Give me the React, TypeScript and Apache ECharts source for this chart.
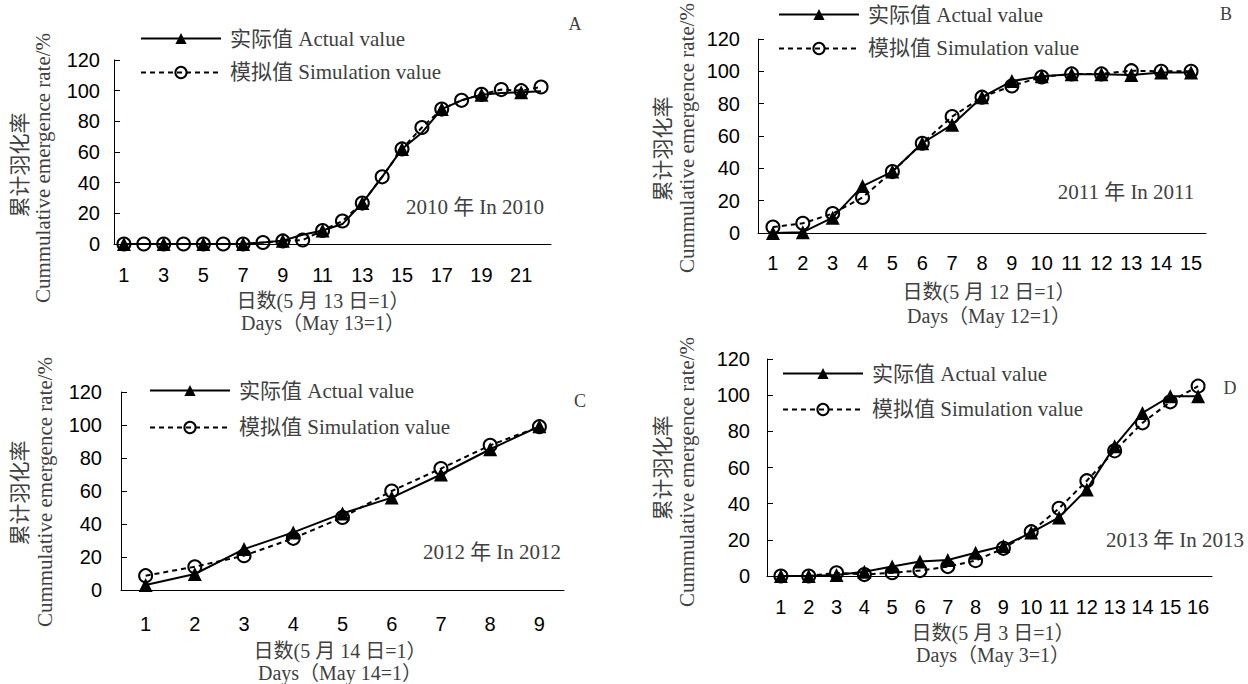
import React, { useEffect, useRef } from "react";
import * as echarts from "echarts";

const daysA = ["1","2","3","4","5","6","7","8","9","10","11","12","13","14","15","16","17","18","19","20","21","22"];
const actualA = [0,0,0,0,0,0,0,1,2.2,6,8.8,13,26.7,43.8,62,72.6,88,93.7,97.4,98.5,99,99.6];
const simA = [0,0,0,0,0,0,0,1,2,2.6,8.8,15,26.7,43.8,62,76,88,93.7,97.6,100.7,100,102.4];

const daysB = ["1","2","3","4","5","6","7","8","9","10","11","12","13","14","15"];
const actualB = [0,0.5,9.5,29,38,55.5,67,84,94,97,98.2,98.2,97.8,99.3,99.3];
const simB = [3.7,6,12,22,38,55.5,72,84,91,96.5,98.4,98.4,100.4,100,100];

const daysC = ["1","2","3","4","5","6","7","8","9"];
const actualC = [3,9.7,24.8,34.9,46.4,56,70,85.3,99.2];
const simC = [8.7,14.1,20.8,31.3,44,60,73.6,87.7,99];

const daysD = ["1","2","3","4","5","6","7","8","9","10","11","12","13","14","15","16"];
const actualD = [0,0,0.5,2.4,5.2,8,8.8,12.9,16.6,24,32.4,47.9,71.8,90.2,99.4,99.4];
const simD = [0,0,1.8,0.8,1.8,3,5.2,8.5,15.3,24.5,37.4,52.7,69.2,84.7,96.3,105];

const yTicks = { min: 0, max: 120, interval: 20 };

const ACT = "实际值 Actual value";
const SIM = "模拟值 Simulation value";
const yTitleCn = "累计羽化率";
const yTitleEn = "Cummulative emergence rate/%";
const xTitlesCn = ["日数(5 月 13 日=1）", "日数(5 月 12 日=1）", "日数(5 月 14 日=1）", "日数(5 月 3 日=1）"];
const xTitlesEn = ["Days（May 13=1）", "Days（May 12=1）", "Days（May 14=1）", "Days（May 3=1）"];
const yearLabels = ["2010 年 In 2010", "2011 年 In 2011", "2012 年 In 2012", "2013 年 In 2013"];
const panelLetters = ["A", "B", "C", "D"];

const SERIF = "'Liberation Serif', 'Times New Roman', 'Noto Sans CJK SC', serif";
const SANS = "'Liberation Sans', Arial, sans-serif";
const GRAY = "#404040";

const panels = [
  { days: daysA, act: actualA, sim: simA, grid: { left: 114, top: 60, width: 437, height: 184 }, labelInterval: 1, xMargin: 21, yMargin: 14,
    legend: { left: 140, top: 28, gap: 13 }, letter: [575, 24], year: [475, 207], yCn: [20, 165], yEn: [43, 168], xCn: [323, 301], xEn: [323, 323] },
  { days: daysB, act: actualB, sim: simB, grid: { left: 758, top: 39, width: 448, height: 194 }, labelInterval: 0, xMargin: 20, yMargin: 18,
    legend: { left: 778, top: 4, gap: 13 }, letter: [1226, 14], year: [1126, 192], yCn: [663, 149], yEn: [687, 138], xCn: [989, 292], xEn: [989, 316] },
  { days: daysC, act: actualC, sim: simC, grid: { left: 121, top: 392, width: 443, height: 198 }, labelInterval: 0, xMargin: 24, yMargin: 19,
    legend: { left: 149, top: 380, gap: 16 }, letter: [580, 401], year: [492, 552], yCn: [20, 493], yEn: [45, 492], xCn: [340, 651], xEn: [340, 673] },
  { days: daysD, act: actualD, sim: simD, grid: { left: 767, top: 359, width: 445, height: 217 }, labelInterval: 0, xMargin: 21, yMargin: 17,
    legend: { left: 782, top: 363, gap: 15 }, letter: [1230, 388], year: [1175, 540], yCn: [663, 468], yEn: [687, 472], xCn: [993, 633], xEn: [993, 655] },
];

function buildOption() {
  const grids: any[] = [];
  const xAxes: any[] = [];
  const yAxes: any[] = [];
  const series: any[] = [];
  const legends: any[] = [];
  const graphics: any[] = [];

  panels.forEach((p, i) => {
    grids.push({ ...p.grid, containLabel: false });
    xAxes.push({
      type: "category",
      gridIndex: i,
      data: p.days,
      boundaryGap: true,
      axisLine: { lineStyle: { color: "#000", width: 1 } },
      axisTick: { inside: true, length: 6, interval: 0, lineStyle: { color: "#000" } },
      axisLabel: { interval: p.labelInterval, color: "#000", fontFamily: SANS, fontSize: 20, margin: p.xMargin },
      splitLine: { show: false },
    });
    yAxes.push({
      type: "value",
      gridIndex: i,
      min: yTicks.min,
      max: yTicks.max,
      interval: yTicks.interval,
      axisLine: { show: true, lineStyle: { color: "#000", width: 1 } },
      axisTick: { show: true, inside: true, length: 6, lineStyle: { color: "#000" } },
      axisLabel: { color: "#000", fontFamily: SANS, fontSize: 20, margin: p.yMargin },
      splitLine: { show: false },
    });
    series.push({
      name: SIM,
      type: "line",
      xAxisIndex: i,
      yAxisIndex: i,
      data: p.sim,
      symbol: "circle",
      symbolSize: 13,
      itemStyle: { color: "rgba(0,0,0,0)", borderColor: "#000", borderWidth: 2 },
      lineStyle: { color: "#000", width: 2, type: [5, 4] },
      z: 2,
    });
    series.push({
      name: ACT,
      type: "line",
      xAxisIndex: i,
      yAxisIndex: i,
      data: p.act,
      symbol: "triangle",
      symbolSize: 14,
      itemStyle: { color: "#000" },
      lineStyle: { color: "#000", width: 2 },
      z: 3,
    });
    legends.push({
      data: [ACT, SIM],
      orient: "vertical",
      left: p.legend.left,
      top: p.legend.top,
      padding: 0,
      itemWidth: 80,
      itemHeight: 14,
      itemGap: p.legend.gap,
      selectedMode: false,
      textStyle: { fontFamily: SERIF, fontSize: 21, color: GRAY, padding: [0, 0, 0, 4] },
    });
    const txt = (text: string, x: number, y: number, rot = 0, size = 21) => ({
      type: "text",
      x,
      y,
      rotation: rot,
      style: {
        text,
        font: `${size}px ${SERIF}`,
        fill: GRAY,
        align: "center",
        verticalAlign: "middle",
      },
    });
    graphics.push(txt(panelLetters[i], p.letter[0], p.letter[1], 0, 18));
    graphics.push(txt(yearLabels[i], p.year[0], p.year[1]));
    graphics.push(txt(yTitleCn, p.yCn[0], p.yCn[1], Math.PI / 2));
    graphics.push(txt(yTitleEn, p.yEn[0], p.yEn[1], Math.PI / 2));
    graphics.push(txt(xTitlesCn[i], p.xCn[0], p.xCn[1], 0, 20));
    graphics.push(txt(xTitlesEn[i], p.xEn[0], p.xEn[1], 0, 20));
  });

  return {
    animation: false,
    backgroundColor: "#fff",
    grid: grids,
    xAxis: xAxes,
    yAxis: yAxes,
    legend: legends,
    series,
    graphic: graphics,
  };
}

export default function App() {
  const ref = useRef<HTMLDivElement>(null);
  useEffect(() => {
    if (!ref.current) return;
    const chart = echarts.init(ref.current, undefined, { renderer: "svg" });
    chart.setOption(buildOption() as any);
    return () => chart.dispose();
  }, []);
  return (
    <div
      ref={ref}
      style={{ position: "fixed", left: 0, top: 0, width: 1248, height: 684, background: "#fff" }}
    />
  );
}
